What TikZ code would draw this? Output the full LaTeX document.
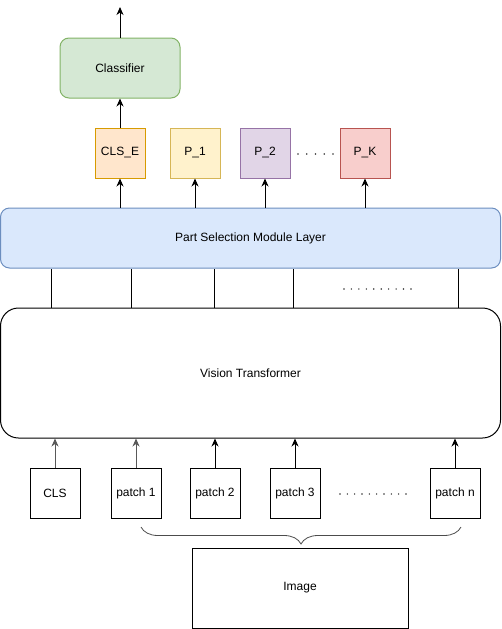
\documentclass[tikz,border=0pt]{standalone}
\usepackage{fontspec}
\setmainfont{Liberation Sans}
\usetikzlibrary{arrows.meta, decorations.pathreplacing}

\definecolor{greenfill}{HTML}{D5E8D4}\definecolor{greendraw}{HTML}{82B366}
\definecolor{orangefill}{HTML}{FFE6CC}\definecolor{orangedraw}{HTML}{D79B00}
\definecolor{yellowfill}{HTML}{FFF2CC}\definecolor{yellowdraw}{HTML}{D6B656}
\definecolor{purplefill}{HTML}{E1D5E7}\definecolor{purpledraw}{HTML}{9673A6}
\definecolor{redfill}{HTML}{F8CECC}\definecolor{reddraw}{HTML}{B85450}
\definecolor{bluefill}{HTML}{DAE8FC}\definecolor{bluedraw}{HTML}{6C8EBF}

\tikzset{
  lbl/.style={font=\fontsize{12}{14}\selectfont, inner sep=0pt},
  tokbox/.style={lbl, draw, rectangle, line width=1pt, minimum width=50pt, minimum height=50pt},
  layer/.style={lbl, draw, rectangle, line width=1pt, rounded corners=9pt},
  arr/.style={line width=1pt, -{Stealth[length=8pt, width=7pt, inset=2.5pt]}},
  dot/.style={fill=black!80},
}

\begin{document}
\begin{tikzpicture}[x=1pt, y=-1pt]
    \useasboundingbox (0,0) rectangle (501,629);

    % classifier and its output
    \node[layer, fill=greenfill, draw=greendraw, minimum width=120pt, minimum height=60pt] (clf) at (120,68) {Classifier};
    \coordinate (out) at (120,7);
    \draw[arr] (clf.north) -- (out);

    % part tokens
    \node[tokbox, fill=orangefill, draw=orangedraw] (cle) at (120,153) {CLS\_E};
    \node[tokbox, fill=yellowfill, draw=yellowdraw] (pone) at (195,153) {P\_1};
    \node[tokbox, fill=purplefill, draw=purpledraw] (ptwo) at (265,153) {P\_2};
    \node[tokbox, fill=redfill, draw=reddraw] (pk) at (365,153) {P\_K};
    \foreach \i in {0,...,4}
        \fill[dot] (298+8.75*\i,154) circle (0.8pt);
    \draw[arr] (cle) -- (clf);

    % part selection module
    \node[layer, fill=bluefill, draw=bluedraw, minimum width=500pt, minimum height=60pt] (psm) at (250.5,238) {Part Selection Module Layer};
    \foreach \n in {cle,pone,ptwo,pk}
        \draw[arr] (\n |- psm.north) -- (\n.south);

    % vision transformer
    \node[layer, rounded corners=18pt, minimum width=500pt, minimum height=130pt] (vit) at (250.5,373) {Vision Transformer};
    \foreach \x in {51,131,214,293,458}
        \draw[line width=1pt] (\x,0 |- vit.north) -- (\x,0 |- psm.south);
    \foreach \i in {0,...,9}
        \fill[dot] (344+7.44*\i,289) circle (0.8pt);

    % input tokens
    \node[tokbox] (cls) at (55,493) {CLS};
    \node[tokbox] (pa) at (136,493) {patch 1};
    \node[tokbox] (pb) at (215,493) {patch 2};
    \node[tokbox] (pc) at (295,493) {patch 3};
    \node[tokbox] (pn) at (455,493) {patch n};
    \foreach \i in {0,...,9}
        \fill[dot] (340+7.33*\i,494) circle (0.8pt);
    \draw[arr, black!65] (cls) -- (cls |- vit.south);
    \draw[arr, black!65] (pa) -- (pa |- vit.south);
    \foreach \n in {pb,pc,pn}
        \draw[arr] (\n) -- (\n |- vit.south);

    % image and brace
    \node[tokbox, minimum width=216pt, minimum height=80pt] (img) at (300,588) {Image};
    \coordinate (bl) at (141,527);
    \coordinate (br) at (461,527);
    \draw[black!70, line width=0.8pt, decorate, decoration={brace, mirror, amplitude=17pt}] (bl) -- (br);
\end{tikzpicture}
\end{document}
